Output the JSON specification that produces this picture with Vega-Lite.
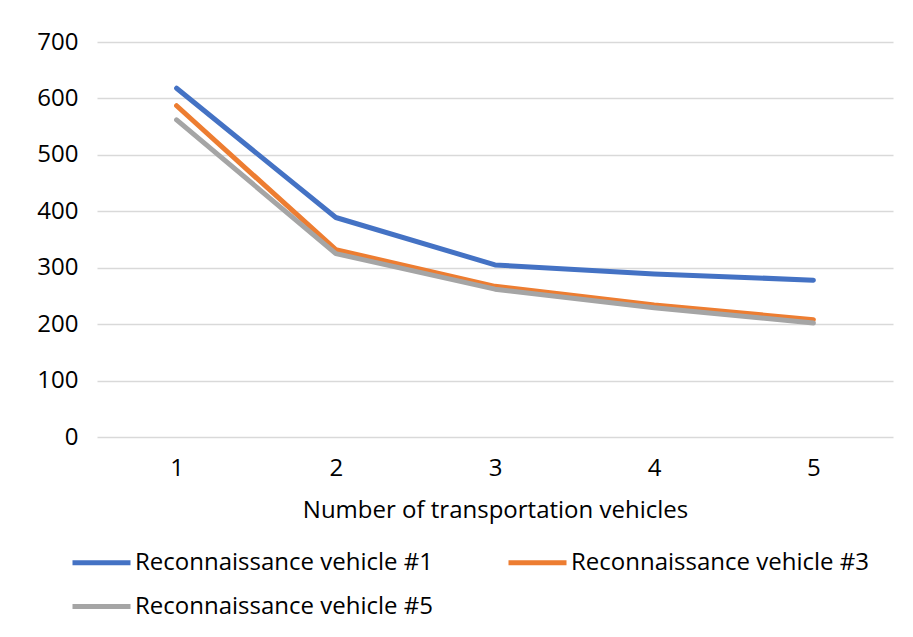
{
  "$schema": "https://vega.github.io/schema/vega-lite/v6.json",
  "width": 796,
  "height": 395,
  "autosize": {"type": "none"},
  "padding": {"left": 97, "top": 42, "right": 20, "bottom": 200},
  "background": "white",
  "config": {
    "font": "Open Sans",
    "view": {"stroke": null}
  },
  "data": {
    "values": [
      {"n": "1", "value": 618, "series": "Reconnaissance vehicle #1"},
      {"n": "2", "value": 389, "series": "Reconnaissance vehicle #1"},
      {"n": "3", "value": 305, "series": "Reconnaissance vehicle #1"},
      {"n": "4", "value": 289, "series": "Reconnaissance vehicle #1"},
      {"n": "5", "value": 278, "series": "Reconnaissance vehicle #1"},
      {"n": "1", "value": 587, "series": "Reconnaissance vehicle #3"},
      {"n": "2", "value": 332, "series": "Reconnaissance vehicle #3"},
      {"n": "3", "value": 267, "series": "Reconnaissance vehicle #3"},
      {"n": "4", "value": 234, "series": "Reconnaissance vehicle #3"},
      {"n": "5", "value": 208, "series": "Reconnaissance vehicle #3"},
      {"n": "1", "value": 562, "series": "Reconnaissance vehicle #5"},
      {"n": "2", "value": 325, "series": "Reconnaissance vehicle #5"},
      {"n": "3", "value": 262, "series": "Reconnaissance vehicle #5"},
      {"n": "4", "value": 229, "series": "Reconnaissance vehicle #5"},
      {"n": "5", "value": 202, "series": "Reconnaissance vehicle #5"}
    ]
  },
  "mark": {"type": "line", "strokeWidth": 5, "strokeCap": "round", "strokeJoin": "round"},
  "encoding": {
    "x": {
      "field": "n",
      "type": "ordinal",
      "scale": {"type": "point", "padding": 0.5},
      "axis": {
        "title": "Number of transportation vehicles",
        "titleFontSize": 24,
        "titleFontWeight": "normal",
        "titleColor": "#000000",
        "titlePadding": 18,
        "labelAngle": 0,
        "labelFontSize": 24,
        "labelColor": "#000000",
        "labelPadding": 19,
        "ticks": false,
        "domain": false,
        "grid": false
      }
    },
    "y": {
      "field": "value",
      "type": "quantitative",
      "scale": {"domain": [0, 700]},
      "axis": {
        "title": null,
        "values": [0, 100, 200, 300, 400, 500, 600, 700],
        "labelFontSize": 24,
        "labelColor": "#000000",
        "labelPadding": 19,
        "ticks": false,
        "domain": false,
        "grid": true,
        "gridColor": "#d9d9d9",
        "gridWidth": 1.5
      }
    },
    "color": {
      "field": "series",
      "type": "nominal",
      "scale": {
        "domain": ["Reconnaissance vehicle #1", "Reconnaissance vehicle #3", "Reconnaissance vehicle #5"],
        "range": ["#4472C4", "#ED7D31", "#A5A5A5"]
      },
      "legend": {
        "title": null,
        "orient": "none",
        "legendX": -27,
        "legendY": 489,
        "direction": "horizontal",
        "columns": 2,
        "columnPadding": 65,
        "rowPadding": -19,
        "symbolType": "stroke",
        "symbolSize": 3364,
        "symbolStrokeWidth": 5,
        "labelFontSize": 24,
        "labelColor": "#000000",
        "labelOffset": 2,
        "labelLimit": 400
      }
    }
  }
}
